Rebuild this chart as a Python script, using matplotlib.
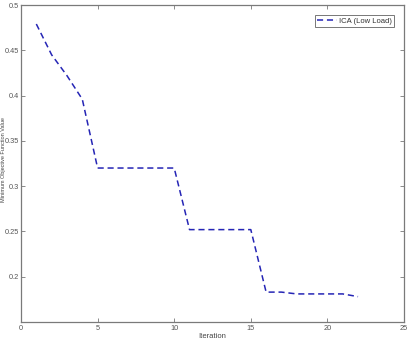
import numpy as np
import matplotlib
matplotlib.use('Agg')
import matplotlib.pyplot as plt

iterations = list(range(1, 23))
objective = [0.479, 0.445, 0.422, 0.396, 0.320, 0.320, 0.320, 0.320, 0.320, 0.320,
             0.252, 0.252, 0.252, 0.252, 0.252, 0.183, 0.183, 0.181, 0.181, 0.181,
             0.181, 0.178]
series_label = 'ICA (Low Load)'
xticks = [0, 5, 10, 15, 20, 25]
yticks = [0.2, 0.25, 0.3, 0.35, 0.4, 0.45, 0.5]
ytick_labels = ['0.2', '0.25', '0.3', '0.35', '0.4', '0.45', '0.5']

plt.rcParams['font.family'] = ['Liberation Sans', 'DejaVu Sans']
fig = plt.figure(figsize=(4.07, 3.40), dpi=100)
ax = fig.add_axes([21/407, 18/340, 383/407, 317/340])

ax.plot(iterations, objective, color='#2525b5', linestyle=(0, (4, 2.5)), linewidth=1.1,
        label=series_label)

ax.set_xlim(0, 25)
ax.set_ylim(0.15, 0.5)
ax.set_xticks(xticks)
ax.set_yticks(yticks)
ax.set_yticklabels(ytick_labels)
ax.tick_params(direction='in', length=3, width=0.6, top=True, right=True,
               labelsize=5.3, labelcolor='#555555', color='#777777', pad=2)
ax.tick_params(axis='y', pad=1.2)
for s in ax.spines.values():
    s.set_color('#7a7a7a')
    s.set_linewidth(0.9)

ax.set_xlabel('Iteration', fontsize=5.5, color='#444444', labelpad=1)
# y label sits at the very left edge, as in the reference
fig.text(0.5/407, 0.53, 'Minimum Objective Function Value', rotation=90,
         fontsize=4.0, color='#444444', ha='left', va='center')

leg = ax.legend(loc='upper right', fontsize=5.5, frameon=True, fancybox=False,
                handlelength=2.6, borderpad=0.3, handletextpad=0.3,
                bbox_to_anchor=(0.985, 0.98))
leg.get_frame().set_edgecolor('#555555')
leg.get_frame().set_linewidth(0.7)
for t in leg.get_texts():
    t.set_color('#333333')

fig.savefig('out.png', dpi=100)
